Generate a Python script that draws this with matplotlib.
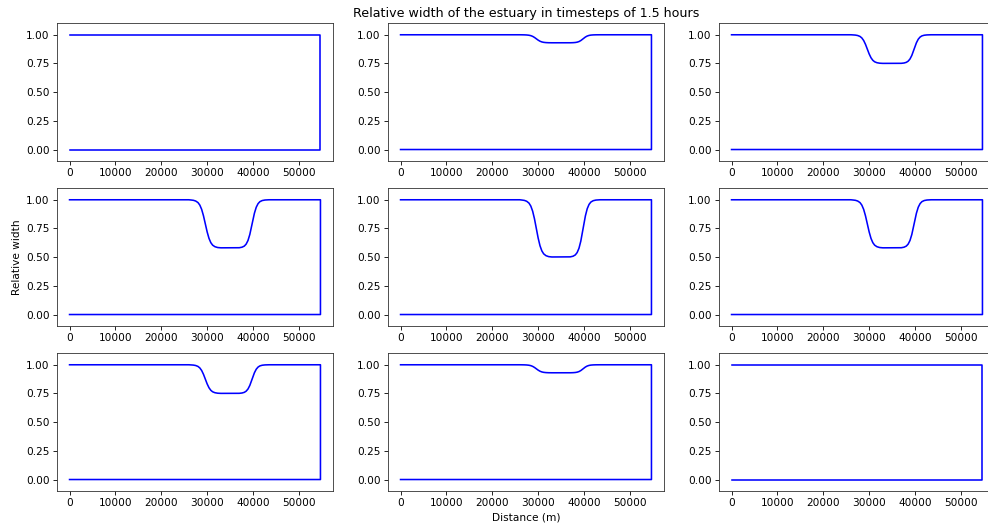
import numpy as np
import matplotlib.pyplot as plt

# distancia a lo largo del estuario (m) y forma normalizada del estrechamiento
distance = [0, 26000, 26500, 27000, 27500, 28000, 28400, 28800, 29200, 29600,
            30000, 30400, 30800, 31200, 31700, 32300, 33000,
            37000, 37600, 38100, 38500, 38900, 39300, 39800, 40300, 40700,
            41100, 41500, 42000, 42600, 43500, 54700]
dip_shape = [0, 0, 0.005, 0.011, 0.026, 0.058, 0.110, 0.199, 0.333, 0.5,
             0.667, 0.801, 0.890, 0.942, 0.974, 0.991, 0.997,
             0.995, 0.984, 0.961, 0.920, 0.845, 0.720, 0.5, 0.280, 0.155,
             0.080, 0.039, 0.016, 0.005, 0, 0]

# profundidad del estrechamiento en cada paso de tiempo (1.5 h)
dip_depth = [0.0, 0.07, 0.25, 0.42, 0.50, 0.42, 0.25, 0.07, 0.0]

W, H = 988, 525
DPI = 76
fig = plt.figure(figsize=(W / DPI, H / DPI), dpi=DPI)

col_left = [57, 388, 719]
row_top = [23.3, 188.3, 353.3]
ax_w, ax_h = 276, 137.7

axes = []
for i in range(9):
    r, c = divmod(i, 3)
    ax = fig.add_axes([col_left[c] / W, 1 - (row_top[r] + ax_h) / H, ax_w / W, ax_h / H])
    width = 1 - dip_depth[i] * np.array(dip_shape)
    xs = list(distance) + [distance[-1], distance[0]]
    ys = list(width) + [0, 0]
    ax.plot(xs, ys, 'b', lw=1.5)
    ax.set_ylim(-0.1, 1.1)
    ax.set_yticks([0, 0.25, 0.5, 0.75, 1.0])
    ax.set_xticks([0, 10000, 20000, 30000, 40000, 50000])
    for s in ax.spines.values():
        s.set_color('0.2')
    axes.append(ax)

axes[1].set_title("Relative width of the estuary in timesteps of 1.5 hours")
axes[3].set_ylabel("Relative width")
axes[7].set_xlabel("Distance (m)")

plt.savefig("out.png", dpi=DPI)
